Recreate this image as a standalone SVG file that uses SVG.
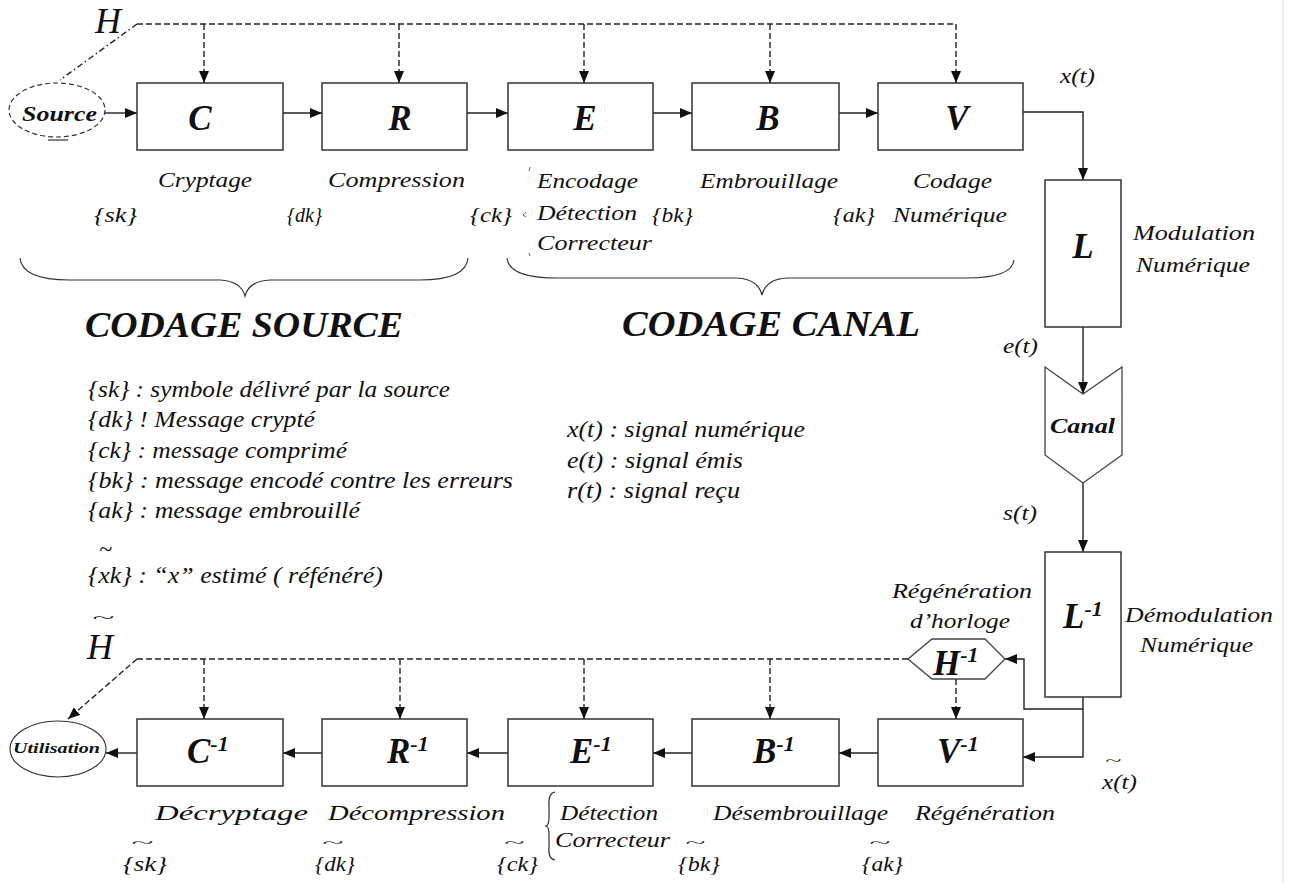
<svg xmlns="http://www.w3.org/2000/svg" width="1294" height="883" viewBox="0 0 1294 883">
<defs>
<style>
.box{fill:#fff;stroke:#333;stroke-width:1.5}
.shape{fill:#fff;stroke:#444;stroke-width:1.3}
.conn{fill:none;stroke:#222;stroke-width:1.4}
.dash{stroke-dasharray:6 3}
.dashdot{stroke-dasharray:6 3 1.5 3}
.brace{fill:none;stroke:#333;stroke-width:1.2}
text{font-family:"Liberation Serif","Times New Roman",serif;fill:#111}
.lbl{font-style:italic;font-size:21px}
.leg{font-style:italic;font-size:24px}
.big{font-style:italic;font-weight:bold;font-size:35px}
.sup{font-size:22px}
.title{font-style:italic;font-weight:bold;font-size:35px}
.til{font-style:italic;font-size:13px}
</style>
<marker id="ah" markerWidth="12" markerHeight="10" refX="12" refY="5" orient="auto" markerUnits="userSpaceOnUse">
<path d="M0,0 L12,5 L0,10 z" fill="#111"/>
</marker>
</defs>
<rect width="1294" height="883" fill="#fff"/>
<line x1="1283" y1="0" x2="1283" y2="883" stroke="#e8e8e8" stroke-width="1.5"/>

<g id="connectors">
<path class="conn dash" d="M137,24 H956"/>
<path class="conn dashdot" d="M137,24 L60,80"/>
<path class="conn dash" d="M204,24 V83" marker-end="url(#ah)"/>
<path class="conn dash" d="M399,24 V83" marker-end="url(#ah)"/>
<path class="conn dash" d="M584,24 V83" marker-end="url(#ah)"/>
<path class="conn dash" d="M770,24 V83" marker-end="url(#ah)"/>
<path class="conn dash" d="M956,24 V83" marker-end="url(#ah)"/>
<path class="conn" d="M105,113 H137" marker-end="url(#ah)"/>
<path class="conn" d="M283,113 H322" marker-end="url(#ah)"/>
<path class="conn" d="M467,113 H508" marker-end="url(#ah)"/>
<path class="conn" d="M653,113 H692" marker-end="url(#ah)"/>
<path class="conn" d="M839,113 H878" marker-end="url(#ah)"/>
<path class="conn" d="M1023,112 H1083 V180" marker-end="url(#ah)"/>
<path class="conn" d="M1083,327 V394" marker-end="url(#ah)"/>
<path class="conn" d="M1083,483 V552" marker-end="url(#ah)"/>
<path class="conn" d="M1083,697 V757 H1023" marker-end="url(#ah)"/>
<path class="conn" d="M1083,709 H1024 V659 H1005" marker-end="url(#ah)"/>
<path class="conn" d="M878,753 H839" marker-end="url(#ah)"/>
<path class="conn" d="M692,753 H653" marker-end="url(#ah)"/>
<path class="conn" d="M508,753 H467" marker-end="url(#ah)"/>
<path class="conn" d="M322,753 H283" marker-end="url(#ah)"/>
<path class="conn" d="M137,753 H106" marker-end="url(#ah)"/>
<path class="conn dash" d="M908,659 H137"/>
<path class="conn dash" d="M137,659 L68,719" marker-end="url(#ah)"/>
<path class="conn dash" d="M204,659 V719" marker-end="url(#ah)"/>
<path class="conn dash" d="M400,659 V719" marker-end="url(#ah)"/>
<path class="conn dash" d="M584,659 V719" marker-end="url(#ah)"/>
<path class="conn dash" d="M770,659 V719" marker-end="url(#ah)"/>
<path class="conn dash" d="M956,679 V719" marker-end="url(#ah)"/>
</g>

<g id="source">
<ellipse cx="57" cy="110" rx="48" ry="27" fill="#fff" stroke="#333" stroke-width="1.2" stroke-dasharray="5 3"/>
<line x1="48" y1="140" x2="68" y2="140" stroke="#333" stroke-width="1.2"/>
<text x="22" y="121" font-style="italic" font-weight="bold" font-size="22" textLength="75" lengthAdjust="spacingAndGlyphs">Source</text>
</g>
<text x="95" y="33" font-style="italic" font-size="36">H</text>

<g id="node-C"><rect class="box" x="137" y="83" width="146" height="67"/><text class="big" x="200" y="130" text-anchor="middle">C</text></g>
<g id="node-R"><rect class="box" x="322" y="83" width="145" height="67"/><text class="big" x="400" y="130" text-anchor="middle">R</text></g>
<g id="node-E"><rect class="box" x="508" y="83" width="145" height="67"/><text class="big" x="585" y="130" text-anchor="middle">E</text></g>
<g id="node-B"><rect class="box" x="692" y="83" width="147" height="67"/><text class="big" x="768" y="130" text-anchor="middle">B</text></g>
<g id="node-V"><rect class="box" x="878" y="83" width="145" height="67"/><text class="big" x="957" y="130" text-anchor="middle">V</text></g>
<g id="node-L"><rect class="box" x="1045" y="180" width="76" height="147"/><text class="big" x="1083" y="258" text-anchor="middle">L</text></g>
<g id="node-canal"><polygon class="shape" points="1045,367 1083,394 1122,367 1122,455 1083,483 1045,455"/><text x="1050" y="433" font-style="italic" font-weight="bold" font-size="21" textLength="65" lengthAdjust="spacingAndGlyphs">Canal</text></g>
<g id="node-Linv"><rect class="box" x="1045" y="552" width="76" height="145"/><text class="big" x="1063" y="628">L<tspan class="sup" dy="-12">-1</tspan></text></g>
<g id="node-Hinv"><polygon class="shape" points="908,659 932,639 985,639 1005,659 985,679 932,679"/><text class="big" x="933" y="675" font-size="37">H<tspan class="sup" dy="-13">-1</tspan></text></g>

<g id="node-Vinv"><rect class="box" x="878" y="719" width="145" height="67"/><text class="big" x="937" y="763">V<tspan class="sup" dy="-12">-1</tspan></text></g>
<g id="node-Binv"><rect class="box" x="692" y="719" width="147" height="67"/><text class="big" x="753" y="763">B<tspan class="sup" dy="-12">-1</tspan></text></g>
<g id="node-Einv"><rect class="box" x="508" y="719" width="145" height="67"/><text class="big" x="570" y="763">E<tspan class="sup" dy="-12">-1</tspan></text></g>
<g id="node-Rinv"><rect class="box" x="322" y="719" width="145" height="67"/><text class="big" x="387" y="763">R<tspan class="sup" dy="-12">-1</tspan></text></g>
<g id="node-Cinv"><rect class="box" x="137" y="719" width="146" height="67"/><text class="big" x="187" y="763">C<tspan class="sup" dy="-12">-1</tspan></text></g>
<g id="utilisation">
<ellipse cx="58" cy="749" rx="48" ry="28" fill="#fff" stroke="#333" stroke-width="1.1"/>
<text x="13" y="753" font-style="italic" font-weight="bold" font-size="14" textLength="87" lengthAdjust="spacingAndGlyphs">Utilisation</text>
</g>
<text x="92" y="623" font-style="italic" font-size="15" textLength="22" lengthAdjust="spacingAndGlyphs">~</text>
<text x="87" y="659" font-style="italic" font-size="36">H</text>

<g id="labels-top">
<text class="lbl" x="158" y="187" textLength="94" lengthAdjust="spacingAndGlyphs">Cryptage</text>
<text class="lbl" x="328" y="187" textLength="137" lengthAdjust="spacingAndGlyphs">Compression</text>
<text class="lbl" x="537" y="188" textLength="101" lengthAdjust="spacingAndGlyphs">Encodage</text>
<text class="lbl" x="537" y="220" textLength="100" lengthAdjust="spacingAndGlyphs">Détection</text>
<text class="lbl" x="537" y="250" textLength="115" lengthAdjust="spacingAndGlyphs">Correcteur</text>
<text class="lbl" x="700" y="188" textLength="138" lengthAdjust="spacingAndGlyphs">Embrouillage</text>
<text class="lbl" x="913" y="188" textLength="79" lengthAdjust="spacingAndGlyphs">Codage</text>
<text class="lbl" x="893" y="222" textLength="114" lengthAdjust="spacingAndGlyphs">Numérique</text>
<text class="lbl" x="94" y="222" textLength="43" lengthAdjust="spacingAndGlyphs">{sk}</text>
<text class="lbl" x="287" y="222" textLength="35" lengthAdjust="spacingAndGlyphs">{dk}</text>
<text class="lbl" x="470" y="222" textLength="42" lengthAdjust="spacingAndGlyphs">{ck}</text>
<text class="lbl" x="652" y="222" textLength="41" lengthAdjust="spacingAndGlyphs">{bk}</text>
<text class="lbl" x="833" y="222" textLength="42" lengthAdjust="spacingAndGlyphs">{ak}</text>
<path d="M530,167 l-1,4 M526,212 l-3,3 l3,2 M529,253 l1,3" fill="none" stroke="#666" stroke-width="1"/>
<text class="lbl" x="1060" y="83" textLength="35" lengthAdjust="spacingAndGlyphs">x(t)</text>
<text class="lbl" x="1133" y="240" textLength="122" lengthAdjust="spacingAndGlyphs">Modulation</text>
<text class="lbl" x="1136" y="272" textLength="114" lengthAdjust="spacingAndGlyphs">Numérique</text>
<text class="lbl" x="1003" y="353" textLength="35" lengthAdjust="spacingAndGlyphs">e(t)</text>
<text class="lbl" x="1003" y="520" textLength="34" lengthAdjust="spacingAndGlyphs">s(t)</text>
<text class="lbl" x="1125" y="622" textLength="148" lengthAdjust="spacingAndGlyphs">Démodulation</text>
<text class="lbl" x="1140" y="652" textLength="113" lengthAdjust="spacingAndGlyphs">Numérique</text>
<text class="lbl" x="892" y="598" textLength="140" lengthAdjust="spacingAndGlyphs">Régénération</text>
<text class="lbl" x="910" y="628" textLength="100" lengthAdjust="spacingAndGlyphs">d’horloge</text>
<text class="til" x="1105" y="765" textLength="16" lengthAdjust="spacingAndGlyphs">~</text>
<text class="lbl" x="1102" y="789" textLength="35" lengthAdjust="spacingAndGlyphs">x(t)</text>
</g>

<g id="braces">
<path class="brace" d="M20,258 Q22,280 70,280 L220,280 Q241,281 245,296 Q249,281 270,280 L420,280 Q466,280 468,258"/>
<path class="brace" d="M507,258 Q509,278 557,278 L737,278 Q758,279 762,295 Q766,279 787,278 L966,278 Q1012,278 1014,260"/>
<path class="brace" d="M555,792 Q548,793 549,806 L549,818 Q549,825 546,826 Q549,827 549,834 L549,847 Q548,859 555,860"/>
</g>
<text class="title" x="85" y="337" textLength="318" lengthAdjust="spacingAndGlyphs">CODAGE SOURCE</text>
<text class="title" x="622" y="336" textLength="298" lengthAdjust="spacingAndGlyphs">CODAGE CANAL</text>

<g id="legend">
<text class="leg" x="88" y="397" textLength="362" lengthAdjust="spacingAndGlyphs">{sk} : symbole délivré par la source</text>
<text class="leg" x="88" y="427" textLength="227" lengthAdjust="spacingAndGlyphs">{dk} ! Message crypté</text>
<text class="leg" x="88" y="458" textLength="259" lengthAdjust="spacingAndGlyphs">{ck} : message comprimé</text>
<text class="leg" x="88" y="488" textLength="425" lengthAdjust="spacingAndGlyphs">{bk} : message encodé contre les erreurs</text>
<text class="leg" x="88" y="518" textLength="272" lengthAdjust="spacingAndGlyphs">{ak} : message embrouillé</text>
<text class="leg" x="99" y="557" font-size="15">~</text>
<text class="leg" x="88" y="583" textLength="295" lengthAdjust="spacingAndGlyphs">{xk} : “x” estimé ( réfénéré)</text>
<text class="leg" x="567" y="437" textLength="238" lengthAdjust="spacingAndGlyphs">x(t) : signal numérique</text>
<text class="leg" x="567" y="468" textLength="176" lengthAdjust="spacingAndGlyphs">e(t) : signal émis</text>
<text class="leg" x="567" y="498" textLength="173" lengthAdjust="spacingAndGlyphs">r(t) : signal reçu</text>
</g>

<g id="labels-bottom">
<text class="lbl" x="155" y="820" textLength="153" lengthAdjust="spacingAndGlyphs">Décryptage</text>
<text class="lbl" x="328" y="820" textLength="177" lengthAdjust="spacingAndGlyphs">Décompression</text>
<text class="lbl" x="560" y="820" textLength="98" lengthAdjust="spacingAndGlyphs">Détection</text>
<text class="lbl" x="555" y="847" textLength="115" lengthAdjust="spacingAndGlyphs">Correcteur</text>
<text class="lbl" x="713" y="820" textLength="175" lengthAdjust="spacingAndGlyphs">Désembrouillage</text>
<text class="lbl" x="915" y="820" textLength="140" lengthAdjust="spacingAndGlyphs">Régénération</text>
<text class="til" x="131" y="847" textLength="22" lengthAdjust="spacingAndGlyphs">~</text>
<text class="lbl" x="123" y="871" textLength="44" lengthAdjust="spacingAndGlyphs">{sk}</text>
<text class="til" x="322" y="847" textLength="21" lengthAdjust="spacingAndGlyphs">~</text>
<text class="lbl" x="315" y="871" textLength="40" lengthAdjust="spacingAndGlyphs">{dk}</text>
<text class="til" x="504" y="847" textLength="20" lengthAdjust="spacingAndGlyphs">~</text>
<text class="lbl" x="497" y="871" textLength="41" lengthAdjust="spacingAndGlyphs">{ck}</text>
<text class="til" x="685" y="847" textLength="20" lengthAdjust="spacingAndGlyphs">~</text>
<text class="lbl" x="678" y="871" textLength="42" lengthAdjust="spacingAndGlyphs">{bk}</text>
<text class="til" x="869" y="847" textLength="21" lengthAdjust="spacingAndGlyphs">~</text>
<text class="lbl" x="862" y="871" textLength="41" lengthAdjust="spacingAndGlyphs">{ak}</text>
</g>
</svg>
